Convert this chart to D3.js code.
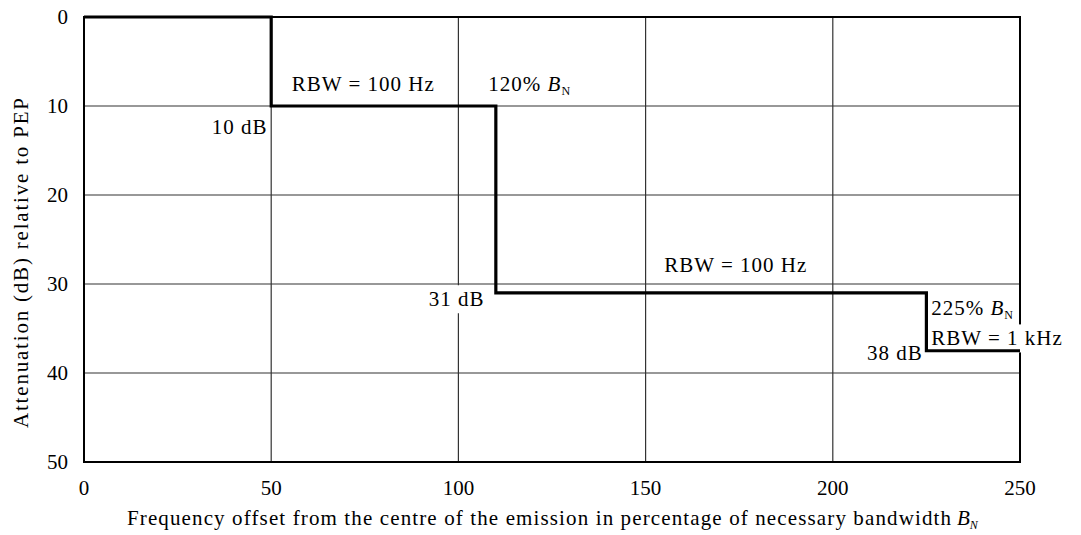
<!DOCTYPE html>
<html><head><meta charset="utf-8">
<script src="https://cdn.jsdelivr.net/npm/d3@7"></script>
<style>
body{margin:0;background:#fff;}
</style></head>
<body><svg id="c" width="1081" height="535" font-family="Liberation Serif, Times New Roman, serif"></svg>
<script>
// ---- data ----
const xTicks = [0, 50, 100, 150, 200, 250];
const yTicks = [0, 10, 20, 30, 40, 50];
const maskX = [0, 50, 110, 225, 250];        // % of B_N
const maskY = [0, 10, 31, 37.5, 37.5];       // dB attenuation
const xTitle = "Frequency offset from the centre of the emission in percentage of necessary bandwidth";
const yTitle = "Attenuation (dB) relative to PEP";

const svg = d3.select("#c");
const L = 84, R = 1020, T = 17, B = 462;
const x = d3.scaleLinear().domain([0, 250]).range([L, R]);
const y = d3.scaleLinear().domain([0, 50]).range([T, B]);
const FS = 21;

// gridlines
const g = svg.append("g");
g.selectAll(".vg").data(xTicks.slice(1, -1)).join("line")
  .attr("x1", d => x(d)).attr("x2", d => x(d)).attr("y1", T).attr("y2", B)
  .attr("stroke", "#333").attr("stroke-width", 1.2);
g.selectAll(".hg").data(yTicks.slice(1, -1)).join("line")
  .attr("x1", L).attr("x2", R).attr("y1", d => y(d)).attr("y2", d => y(d))
  .attr("stroke", "#333").attr("stroke-width", 1.2);

// border
svg.append("rect").attr("x", L).attr("y", T).attr("width", R - L).attr("height", B - T)
  .attr("fill", "none").attr("stroke", "#000").attr("stroke-width", 2);

// white label backgrounds (mask grid/border, but not the mask line)
const bgLayer = svg.append("g");

// mask line
const pts = maskX.map((d, i) => [d, maskY[i]]);
svg.append("path").datum(pts)
  .attr("d", d3.line().x(d => x(d[0])).y(d => y(d[1])).curve(d3.curveStepAfter))
  .attr("fill", "none").attr("stroke", "#000").attr("stroke-width", 3.2);

const txtLayer = svg.append("g");

// axes tick labels
txtLayer.append("g").selectAll("text").data(xTicks).join("text")
  .attr("x", d => x(d)).attr("y", 495).attr("text-anchor", "middle")
  .attr("font-size", FS).text(d => d);
txtLayer.append("g").selectAll("text").data(yTicks).join("text")
  .attr("x", 68).attr("y", d => y(d) + 7).attr("text-anchor", "end")
  .attr("font-size", FS).text(d => d);

// titles
txtLayer.append("text").attr("x", 127).attr("y", 525).attr("font-size", FS)
  .attr("textLength", 824).attr("lengthAdjust", "spacing").text(xTitle);
txtLayer.append("text").attr("x", 957).attr("y", 525).attr("font-size", FS)
  .attr("font-style", "italic").text("B")
  .append("tspan").attr("font-size", 12).attr("dy", 4).text("N");
txtLayer.append("text").attr("transform", "translate(28,263) rotate(-90)")
  .attr("text-anchor", "middle").attr("font-size", FS)
  .attr("textLength", 330).attr("lengthAdjust", "spacing").text(yTitle);

// annotations
function label(tx, ty, parts, anchor, bg) {
  const t = txtLayer.append("text").attr("x", tx).attr("y", ty)
    .attr("font-size", FS).attr("text-anchor", anchor || "start").attr("letter-spacing", 1);
  parts.forEach(p => {
    const s = t.append("tspan").text(p.t);
    if (p.i) s.attr("font-style", "italic");
    if (p.sub) s.attr("font-size", 12).attr("dy", 4).attr("letter-spacing", 0);
  });
  if (bg) {
    const b = t.node().getBBox();
    bgLayer.append("rect").attr("x", b.x - 3).attr("y", b.y - 2)
      .attr("width", b.width + 6).attr("height", b.height + 4).attr("fill", "#fff");
  }
  return t;
}
label(x(55.5), y(8.3), [{t: "RBW = 100 Hz"}]);
label(x(108), y(8.3), [{t: "120% "}, {t: "B", i: 1}, {t: "N", sub: 1}]);
label(x(49), y(13.1), [{t: "10 dB"}], "end");
label(x(155), y(28.6), [{t: "RBW = 100 Hz"}]);
label(x(107), y(32.5), [{t: "31 dB"}], "end", true);
label(x(226.3), y(33.5), [{t: "225% "}, {t: "B", i: 1}, {t: "N", sub: 1}], "start", true);
label(x(226.3), y(36.9), [{t: "RBW = 1 kHz"}], "start", true);
label(x(224), y(38.5), [{t: "38 dB"}], "end");
</script></body></html>
